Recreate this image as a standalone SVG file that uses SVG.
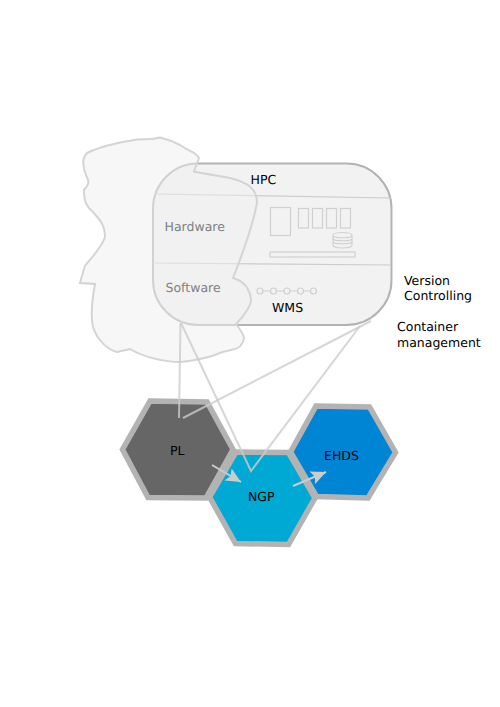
<svg xmlns="http://www.w3.org/2000/svg" width="500" height="707" viewBox="0 0 500 707">
<defs>
<style>
text{font-family:"DejaVu Sans",sans-serif;font-size:12.5px;fill:#000;text-rendering:geometricPrecision}
.grey{fill:#808080}
.hex{stroke:#b3b3b3;stroke-width:5.500;stroke-linejoin:miter}
.thin{fill:none;stroke:#d0d0d0;stroke-width:1.200}
.conn{fill:none;stroke:#ccc;stroke-width:2;stroke-opacity:.8}
.arrow{fill:none;stroke:#ccc;stroke-width:2}
</style>
<marker id="ah" markerUnits="userSpaceOnUse" markerWidth="18" markerHeight="16" refX="15" refY="7" orient="auto"><path d="M0 0L15 7L0 14L3 7Z" fill="#ccc"/></marker>
</defs>
<rect width="500" height="707" fill="#fff"/>
<g id="hpc">
<rect x="153" y="163.500" width="238.500" height="161.500" rx="45" ry="45" fill="#f2f2f2" stroke="#b3b3b3" stroke-width="2"/>
<path d="M154 194L391 198M153 263L391 265" fill="none" stroke="#ccc" stroke-width="1.200"/>
<text x="250.500" y="184">HPC</text>
<g id="hardware-icons">
<rect class="thin" x="270.500" y="207.500" width="20" height="28"/>
<rect class="thin" x="298.500" y="208.500" width="10" height="19.500"/>
<rect class="thin" x="312.500" y="208.500" width="10" height="19.500"/>
<rect class="thin" x="326.500" y="208.500" width="10" height="19.500"/>
<rect class="thin" x="340.500" y="208.500" width="10" height="19.500"/>
<rect class="thin" x="270" y="252" width="85" height="5"/>
<path class="thin" d="M333 235.500C333 231.500 352 231.500 352 235.500V245C352 249 333 249 333 245ZM333 235.500C333 238.500 352 238.500 352 235.500M333 238.500C333 241.500 352 241.500 352 238.500M333 241.500C333 244.500 352 244.500 352 241.500"/>
</g>
<g id="wms-icons">
<path class="thin" d="M263 291H270M276 291H284M290 291H297M303 291H310"/>
<circle class="thin" cx="260" cy="291" r="3"/>
<circle class="thin" cx="273.500" cy="291" r="3"/>
<circle class="thin" cx="287" cy="291" r="3"/>
<circle class="thin" cx="300.500" cy="291" r="3"/>
<circle class="thin" cx="313.500" cy="291" r="3"/>
</g>
<text x="272" y="312">WMS</text>
</g>
<g id="cloud">
<path d="M199 158C196 152 190 152 180 145C172 141 166 139 160 137.500C152 140 150 139 137 139.500C115 143 97 148 87 153C82 158 82 165 86 175C89 181 90 183 84 190C84 200 85 205 93 212C101 221 105 226 105 237C102 247 92 257 85 266C83 272 80 283 80 283L95 284C92 300 91 318 93 327C97 340 108 350 117 352L130 349C145 358 166 362 180 362C195 361 205 358 212 356C220 352 225 351 231 350C238 349 243 346 244 338C243 332 237 326 236 324C245 315 251 305 251 300C250 288 243 281 233 278C240 260 252 230 257 203C257 190 250 183 230 178C213 175 195 172 194 171.500Z" fill="#f0f0f0" fill-opacity="0.500" stroke="#d4d4d4" stroke-width="2"/>
<text class="grey" x="164.500" y="231">Hardware</text>
<text class="grey" x="165.500" y="292">Software</text>
</g>
<g id="pl">
<path class="hex" fill="#666" d="M150 401L207 402L233 449.500L206 498L148 497.500L122.500 449.500Z"/>
<text x="170" y="455">PL</text>
</g>
<g id="ngp">
<path class="hex" fill="#00a8d4" d="M236 452L288.500 452.500L315 498L288.500 544.500L235.500 543.500L209.500 497Z"/>
<text x="248" y="501">NGP</text>
</g>
<g id="ehds">
<path class="hex" fill="#0085d4" d="M316 406L369.500 407L395.500 452.500L368 498L316.500 496.500L290.500 452Z"/>
<text x="324" y="460">EHDS</text>
</g>
<g id="connectors">
<path class="conn" d="M180.500 323L179 418"/>
<path class="conn" d="M181 323L251 471L360 326"/>
<path class="conn" d="M371 321L183 418"/>
<path class="arrow" marker-end="url(#ah)" d="M212 465L241 482"/>
<path class="arrow" marker-end="url(#ah)" d="M293 486L326 472"/>
</g>
<g id="labels">
<text x="404" y="285">Version</text>
<text x="404" y="300">Controlling</text>
<text x="397" y="331">Container</text>
<text x="397" y="347">management</text>
</g>
</svg>
